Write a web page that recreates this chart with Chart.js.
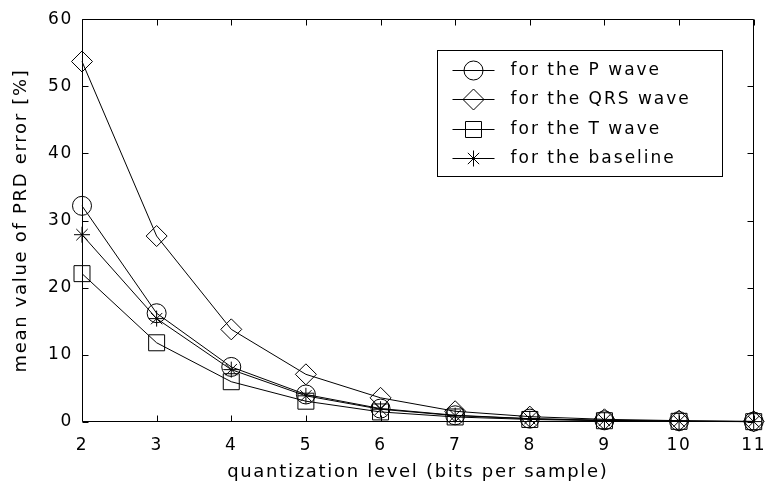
<!DOCTYPE html>
<html>
<head>
<meta charset="utf-8">
<script src="https://cdn.jsdelivr.net/npm/chart.js@4.4.0/dist/chart.umd.min.js"></script>
<style>
  html, body { margin: 0; padding: 0; background: #fff; overflow: hidden; }
  #wrap { width: 766px; height: 490px; }
</style>
</head>
<body>
<div id="wrap"><canvas id="prdChart"></canvas></div>
<script>
// quantization level (bits per sample)
const bits = [2, 3, 4, 5, 6, 7, 8, 9, 10, 11];

// mean value of PRD error [%]
const prdP    = [32.2, 16.2, 8.2, 4.1, 2.0, 1.0, 0.5, 0.25, 0.12, 0.06];
const prdQRS  = [53.7, 27.7, 13.8, 7.1, 3.6, 1.6, 0.8, 0.4, 0.2, 0.1];
const prdT    = [22.1, 11.8, 6.0, 3.1, 1.5, 0.75, 0.38, 0.19, 0.1, 0.05];
const prdBase = [27.9, 15.4, 7.8, 3.9, 1.9, 0.95, 0.48, 0.24, 0.12, 0.06];

const names  = ['for the P wave', 'for the QRS wave', 'for the T wave', 'for the baseline'];
const styles = ['circle', 'rectRot', 'rect', 'star'];
const radii  = [9.5, 10.5, 11.3, 8];

const series = [prdP, prdQRS, prdT, prdBase];

Chart.defaults.font.family = 'DejaVu Sans';
Chart.defaults.color = '#000';

const SPACING = '1.7px';

// box round the plot with inward ticks on all four sides
const framePlugin = {
    id: 'frame',
    beforeLayout(chart) { chart.ctx.letterSpacing = SPACING; },
    beforeDraw(chart) { chart.ctx.letterSpacing = SPACING; },
    beforeDatasetsDraw(chart) {
        const { ctx, chartArea: a, scales } = chart;
        const L = Math.round(a.left) + 0.5, R = Math.round(a.right) - 0.5;
        const T = Math.round(a.top) + 0.5, B = Math.round(a.bottom) - 0.5;
        const len = 6;
        ctx.save();
        ctx.strokeStyle = '#000';
        ctx.lineWidth = 1;
        ctx.beginPath();
        ctx.rect(L, T, R - L, B - T);
        scales.x.ticks.forEach(t => {
            const px = Math.round(scales.x.getPixelForValue(t.value)) + 0.5;
            ctx.moveTo(px, B); ctx.lineTo(px, B - len);
            ctx.moveTo(px, T); ctx.lineTo(px, T + len);
        });
        scales.y.ticks.forEach(t => {
            const py = Math.round(scales.y.getPixelForValue(t.value)) + 0.5;
            ctx.moveTo(L, py); ctx.lineTo(L + len, py);
            ctx.moveTo(R, py); ctx.lineTo(R - len, py);
        });
        ctx.stroke();
        ctx.restore();
    }
};

// boxed legend in the upper right of the plot
const legendBox = {
    id: 'legendBox',
    afterDatasetsDraw(chart) {
        const { ctx, chartArea: a } = chart;
        const bx = Math.round(a.left + 355) + 0.5, by = Math.round(a.top + 31) + 0.5;
        const bw = 285, bh = 126;
        ctx.save();
        ctx.fillStyle = '#fff';
        ctx.fillRect(bx, by, bw, bh);
        ctx.strokeStyle = '#000';
        ctx.lineWidth = 1;
        ctx.strokeRect(bx, by, bw, bh);
        ctx.font = '17px "DejaVu Sans"';
        ctx.letterSpacing = '2px';
        ctx.textBaseline = 'middle';
        ctx.textAlign = 'left';
        names.forEach((name, i) => {
            const cy = Math.round(by + 19 + i * 29.6) + 0.5;
            ctx.beginPath();
            ctx.moveTo(bx + 15, cy);
            ctx.lineTo(bx + 57, cy);
            ctx.stroke();
            ctx.fillStyle = 'rgba(0,0,0,0)';
            Chart.helpers.drawPoint(ctx, {
                pointStyle: styles[i], radius: radii[i], rotation: 0, borderWidth: 1
            }, bx + 36, cy);
            ctx.fillStyle = '#000';
            ctx.fillText(name, bx + 73, cy);
        });
        ctx.restore();
    }
};

const ctx = document.getElementById('prdChart').getContext('2d');
const prdChart = new Chart(ctx, {
    type: 'line',
    data: {
        datasets: series.map((vals, i) => ({
            label: names[i],
            data: bits.map((b, k) => ({ x: b, y: vals[k] })),
            borderColor: '#000',
            borderWidth: 1,
            pointStyle: styles[i],
            pointRadius: radii[i],
            pointBorderColor: '#000',
            pointBackgroundColor: 'rgba(0,0,0,0)',
            pointBorderWidth: 1,
            tension: 0,
            fill: false,
            clip: false
        }))
    },
    options: {
        responsive: true,
        maintainAspectRatio: false,
        animation: false,
        devicePixelRatio: 1,
        layout: { padding: { top: 18, right: 7, left: 0, bottom: 0 } },
        plugins: {
            legend: { display: false },
            tooltip: { enabled: false }
        },
        scales: {
            x: {
                type: 'linear',
                min: 2,
                max: 11,
                grid: { display: false, drawTicks: false },
                border: { display: false },
                ticks: { stepSize: 1, padding: 13, font: { size: 17 }, maxRotation: 0 },
                title: {
                    display: true,
                    text: 'quantization level (bits per sample)',
                    font: { size: 18 },
                    padding: { top: 0, bottom: 7 }
                },
                afterFit(s) { s.height = 68; s.paddingLeft = 0; s.paddingRight = 0; }
            },
            y: {
                min: 0,
                max: 60,
                grid: { display: false, drawTicks: false },
                border: { display: false },
                ticks: { stepSize: 10, padding: 9, font: { size: 17 } },
                title: {
                    display: true,
                    text: 'mean value of PRD error [%]',
                    font: { size: 18 },
                    padding: { top: 11, bottom: 0 }
                },
                afterFit(s) { s.width = 82; }
            }
        }
    },
    plugins: [framePlugin, legendBox]
});
</script>
</body>
</html>
